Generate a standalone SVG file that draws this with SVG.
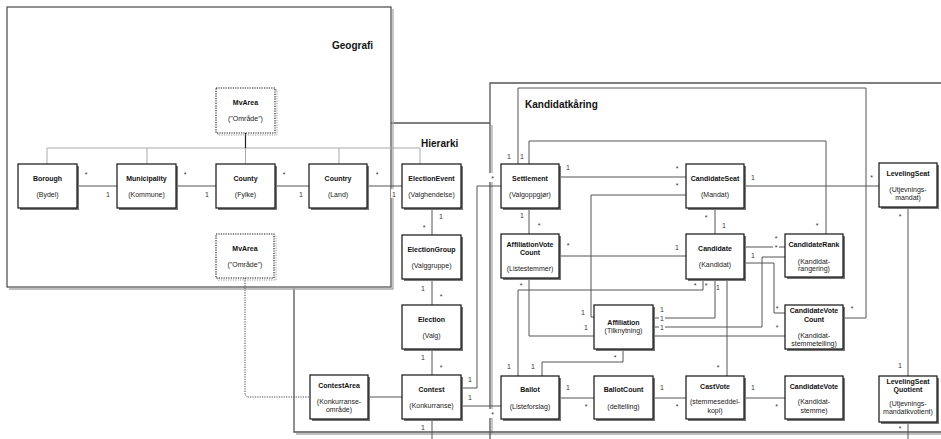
<svg xmlns="http://www.w3.org/2000/svg" width="941" height="439" viewBox="0 0 941 439">
<style>
.bg{fill:#fff}
.fr{fill:none;stroke:#555;stroke-width:1.3}
.frs{fill:none;stroke:#aaa;stroke-width:1.3}
.ft{font-family:"Liberation Sans",Arial,sans-serif;font-size:10px;font-weight:bold;fill:#111}
.sh{fill:#777}
.box{fill:#fff;stroke:#111;stroke-width:1.2}
.dbox{fill:#fff;stroke:#111;stroke-width:1.1;stroke-dasharray:1.2 1.2}
.dsh{fill:none;stroke:#999;stroke-width:1;stroke-dasharray:1.2 1.2}
.t{font-family:"Liberation Sans",Arial,sans-serif;font-size:7px;text-anchor:middle;fill:#222}
.b{font-weight:bold;fill:#111}
.c{fill:none;stroke:#555;stroke-width:1}
.g{fill:none;stroke:#aaa;stroke-width:1}
.k{fill:none;stroke:#222;stroke-width:1.2}
.dot{fill:none;stroke:#444;stroke-width:1;stroke-dasharray:1.2 1.2}
.l{font-family:"Liberation Sans",Arial,sans-serif;font-size:7px;text-anchor:middle;fill:#333}
.lb{fill:#fff}
</style>

<!-- frames -->
<g id="frame-hierarki">
  <path class="frs" d="M492,125 V434 M296,434 H941"/>
  <path class="fr" d="M391,123 H490 M294,288 V432 H941"/>
  <text class="ft" x="421" y="147">Hierarki</text>
</g>
<g id="frame-kandidatkaring">
  <path class="fr" d="M941,83 H490 V439"/>
  <text class="ft" x="525" y="108">Kandidatkåring</text>
</g>
<g id="frame-geografi">
  <path class="frs" d="M393,9 V289 H9"/>
  <rect class="bg" x="7" y="7" width="384" height="280"/>
  <rect class="fr" x="7" y="7" width="384" height="280"/>
  <text class="ft" x="332" y="49">Geografi</text>
</g>

<!-- connectors -->
<g id="connectors">
  <!-- geography tree -->
  <path class="g" d="M47,148 H420 M47,148 V164 M147,148 V164 M245.5,148 V164 M339,148 V164 M420,148 V164"/>
  <path class="k" d="M245.5,133 V148"/>
  <!-- geography associations -->
  <path class="c" d="M77,186 H117 M176,186 H216 M275,186 H309 M367,186 H402"/>
  <!-- hierarchy -->
  <path class="c" d="M432,208 V235 M432,279 V305 M432,349 V375 M432,419 V439 M368,397 H402"/>
  <path class="dot" d="M245,278 V393 Q245,397 249,397 H310"/>
  <path class="c" d="M461,388 H477 V186 H501 M461,406 H501"/>
  <!-- kandidatkaring -->
  <path class="c" d="M559,177 H686 M529,208 V234 M744,186 H879 M715,208 V234 M559,256 H686 M908,207 V376 M908,423 V439"/>
  <path class="c" d="M518,164 V88 H866 V318 H843"/>
  <path class="c" d="M529,164 V141 H826 V234"/>
  <path class="c" d="M686,195 H591 V317 H594"/>
  <path class="c" d="M529,278 V336 H594"/>
  <path class="c" d="M518,376 V290 H703 V279"/>
  <path class="c" d="M623,349 V362 H542 V376"/>
  <path class="c" d="M559,398 H594 M653,398 H686 M744,398 H785 M727,279 V376"/>
  <path class="c" d="M653,318 H715 V279"/>
  <path class="c" d="M653,327 H762 V257 H785"/>
  <path class="c" d="M653,336 H785"/>
  <path class="c" d="M744,247 H785"/>
  <path class="c" d="M744,263 H774 V313 H785"/>
  <!-- multiplicity labels -->
  <rect class="lb" x="391" y="189" width="6" height="9"/>
  <rect class="lb" x="489" y="173" width="7" height="9"/>
  <rect class="lb" x="489" y="409" width="7" height="9"/>
  <rect class="lb" x="659" y="314" width="6" height="8"/>
  <rect class="lb" x="659" y="323" width="6" height="8"/>
  <rect class="lb" x="773" y="243" width="6" height="6"/>
  <g class="l">
    <text x="86" y="177">*</text><text x="108" y="196.5">1</text>
    <text x="185" y="177">*</text><text x="207" y="196.5">1</text>
    <text x="284" y="177">*</text><text x="301" y="196.5">1</text>
    <text x="377" y="177">*</text><text x="394" y="196.5">1</text>
    <text x="441" y="219">1</text><text x="424" y="230">*</text>
    <text x="423" y="291">1</text><text x="441" y="299">*</text>
    <text x="423" y="360">1</text><text x="441" y="369.5">*</text>
    <text x="423" y="430">1</text>
    <text x="470" y="381.5">1</text><text x="492.5" y="180.5">*</text>
    <text x="470" y="399.5">1</text><text x="492.5" y="417">*</text>
    <text x="568" y="170">1</text><text x="677" y="170.5">*</text>
    <text x="522" y="218">1</text><text x="539" y="228">*</text>
    <text x="753" y="180">1</text><text x="871.5" y="180">*</text>
    <text x="706" y="219.5">*</text><text x="724" y="227.5">1</text>
    <text x="568" y="248">*</text><text x="677" y="250">1</text>
    <text x="900" y="219">*</text><text x="900" y="367.5">1</text><text x="900" y="430.5">*</text>
    <text x="509" y="158.5">1</text><text x="852" y="311">*</text>
    <text x="522" y="158.5">1</text><text x="817" y="228">*</text>
    <text x="677" y="188">*</text><text x="583" y="315">1</text>
    <text x="521" y="288">*</text><text x="586" y="330">1</text>
    <text x="509" y="369">1</text><text x="695" y="288">*</text>
    <text x="615" y="360">*</text><text x="533" y="369">1</text>
    <text x="568" y="390">1</text><text x="586" y="409">*</text>
    <text x="662" y="390">1</text><text x="677" y="409">*</text>
    <text x="753" y="390">1</text><text x="776.5" y="409">*</text>
    <text x="718" y="289.5">1</text><text x="718" y="369.5">*</text>
    <text x="662" y="311.5">1</text><text x="706" y="288">*</text>
    <text x="662" y="320.5">1</text><text x="776" y="250">*</text>
    <text x="662" y="329.5">1</text><text x="777" y="330">*</text>
    <text x="776" y="241">*</text>
    <text x="753" y="257.5">1</text><text x="777" y="311">*</text>
  </g>
</g>

<!-- nodes -->
<g id="mvarea-top">
  <rect class="dsh" x="218" y="90" width="59" height="45"/>
  <rect class="dbox" x="216" y="88" width="59" height="45"/>
  <text class="t b" x="245.5" y="104.5">MvArea</text>
  <text class="t" x="245.5" y="120.5">("Område")</text>
</g>
<g id="borough">
  <rect class="sh" x="20" y="166" width="59" height="44"/>
  <rect class="box" x="18" y="164" width="59" height="44"/>
  <text class="t b" x="47.5" y="180.5">Borough</text>
  <text class="t" x="47.5" y="196.5">(Bydel)</text>
</g>
<g id="municipality">
  <rect class="sh" x="119" y="166" width="59" height="44"/>
  <rect class="box" x="117" y="164" width="59" height="44"/>
  <text class="t b" x="146.5" y="180.5">Municipality</text>
  <text class="t" x="146.5" y="196.5">(Kommune)</text>
</g>
<g id="county">
  <rect class="sh" x="218" y="166" width="59" height="44"/>
  <rect class="box" x="216" y="164" width="59" height="44"/>
  <text class="t b" x="245.5" y="180.5">County</text>
  <text class="t" x="245.5" y="196.5">(Fylke)</text>
</g>
<g id="country">
  <rect class="sh" x="311" y="166" width="58" height="44"/>
  <rect class="box" x="309" y="164" width="58" height="44"/>
  <text class="t b" x="338" y="180.5">Country</text>
  <text class="t" x="338" y="196.5">(Land)</text>
</g>
<g id="election-event">
  <rect class="sh" x="404" y="166" width="59" height="44"/>
  <rect class="box" x="402" y="164" width="59" height="44"/>
  <text class="t b" x="431.5" y="180.5">ElectionEvent</text>
  <text class="t" x="431.5" y="196.5">(Valghendelse)</text>
</g>
<g id="election-group">
  <rect class="sh" x="404" y="237" width="59" height="44"/>
  <rect class="box" x="402" y="235" width="59" height="44"/>
  <text class="t b" x="431.5" y="251.5">ElectionGroup</text>
  <text class="t" x="431.5" y="267.5">(Valggruppe)</text>
</g>
<g id="mvarea-bottom">
  <rect class="dsh" x="218" y="236" width="58" height="44"/>
  <rect class="dbox" x="216" y="234" width="58" height="44"/>
  <text class="t b" x="245" y="250.5">MvArea</text>
  <text class="t" x="245" y="266.5">("Område")</text>
</g>
<g id="election">
  <rect class="sh" x="404" y="307" width="59" height="44"/>
  <rect class="box" x="402" y="305" width="59" height="44"/>
  <text class="t b" x="431.5" y="321.5">Election</text>
  <text class="t" x="431.5" y="337.5">(Valg)</text>
</g>
<g id="contest">
  <rect class="sh" x="404" y="377" width="59" height="44"/>
  <rect class="box" x="402" y="375" width="59" height="44"/>
  <text class="t b" x="431.5" y="391.5">Contest</text>
  <text class="t" x="431.5" y="407.5">(Konkurranse)</text>
</g>
<g id="contest-area">
  <rect class="sh" x="312" y="377" width="58" height="44"/>
  <rect class="box" x="310" y="375" width="58" height="44"/>
  <text class="t b" x="339" y="388">ContestArea</text>
  <text class="t" x="339" y="404">(Konkurranse-</text>
  <text class="t" x="339" y="412">område)</text>
</g>
<g id="settlement">
  <rect class="sh" x="503" y="166" width="58" height="44"/>
  <rect class="box" x="501" y="164" width="58" height="44"/>
  <text class="t b" x="530" y="180.5">Settlement</text>
  <text class="t" x="530" y="196.5">(Valgoppgjør)</text>
</g>
<g id="candidate-seat">
  <rect class="sh" x="688" y="166" width="58" height="44"/>
  <rect class="box" x="686" y="164" width="58" height="44"/>
  <text class="t b" x="715" y="180.5">CandidateSeat</text>
  <text class="t" x="715" y="196.5">(Mandat)</text>
</g>
<g id="leveling-seat">
  <rect class="sh" x="881" y="165" width="58" height="44"/>
  <rect class="box" x="879" y="163" width="58" height="44"/>
  <text class="t b" x="908" y="175.5">LevelingSeat</text>
  <text class="t" x="908" y="192">(Utjevnings-</text>
  <text class="t" x="908" y="200">mandat)</text>
</g>
<g id="affiliation-vote-count">
  <rect class="sh" x="503" y="236" width="58" height="44"/>
  <rect class="box" x="501" y="234" width="58" height="44"/>
  <text class="t b" x="530" y="246.5">AffiliationVote</text>
  <text class="t b" x="530" y="254.5">Count</text>
  <text class="t" x="530" y="270.5">(Listestemmer)</text>
</g>
<g id="candidate">
  <rect class="sh" x="688" y="236" width="58" height="45"/>
  <rect class="box" x="686" y="234" width="58" height="45"/>
  <text class="t b" x="715" y="250.5">Candidate</text>
  <text class="t" x="715" y="266.5">(Kandidat)</text>
</g>
<g id="candidate-rank">
  <rect class="sh" x="787" y="236" width="58" height="43"/>
  <rect class="box" x="785" y="234" width="58" height="43"/>
  <text class="t b" x="814" y="246.5">CandidateRank</text>
  <text class="t" x="814" y="263.5">(Kandidat-</text>
  <text class="t" x="814" y="271">rangering)</text>
</g>
<g id="affiliation">
  <rect class="sh" x="596" y="307" width="59" height="44"/>
  <rect class="box" x="594" y="305" width="59" height="44"/>
  <text class="t b" x="623.5" y="325">Affiliation</text>
  <text class="t" x="623.5" y="333">(Tilknytning)</text>
</g>
<g id="candidate-vote-count">
  <rect class="sh" x="787" y="307" width="58" height="44"/>
  <rect class="box" x="785" y="305" width="58" height="44"/>
  <text class="t b" x="814" y="313">CandidateVote</text>
  <text class="t b" x="814" y="321.5">Count</text>
  <text class="t" x="814" y="337.5">(Kandidat-</text>
  <text class="t" x="814" y="345.5">stemmetelling)</text>
</g>
<g id="ballot">
  <rect class="sh" x="503" y="378" width="58" height="43"/>
  <rect class="box" x="501" y="376" width="58" height="43"/>
  <text class="t b" x="530" y="392">Ballot</text>
  <text class="t" x="530" y="408.5">(Listeforslag)</text>
</g>
<g id="ballot-count">
  <rect class="sh" x="596" y="378" width="59" height="43"/>
  <rect class="box" x="594" y="376" width="59" height="43"/>
  <text class="t b" x="623.5" y="392">BallotCount</text>
  <text class="t" x="623.5" y="408.5">(deltelling)</text>
</g>
<g id="cast-vote">
  <rect class="sh" x="688" y="378" width="58" height="43"/>
  <rect class="box" x="686" y="376" width="58" height="43"/>
  <text class="t b" x="715" y="388.5">CastVote</text>
  <text class="t" x="715" y="404">(stemmeseddel-</text>
  <text class="t" x="715" y="412.5">kopi)</text>
</g>
<g id="candidate-vote">
  <rect class="sh" x="787" y="378" width="58" height="43"/>
  <rect class="box" x="785" y="376" width="58" height="43"/>
  <text class="t b" x="814" y="388.5">CandidateVote</text>
  <text class="t" x="814" y="404">(Kandidat-</text>
  <text class="t" x="814" y="412.5">stemme)</text>
</g>
<g id="leveling-seat-quotient">
  <rect class="sh" x="881" y="378" width="58" height="46"/>
  <rect class="box" x="879" y="376" width="58" height="46"/>
  <text class="t b" x="908" y="384">LevelingSeat</text>
  <text class="t b" x="908" y="391.5">Quotient</text>
  <text class="t" x="908" y="405.5">(Utjevnings-</text>
  <text class="t" x="908" y="413.5">mandatkvotient)</text>
</g>
</svg>
